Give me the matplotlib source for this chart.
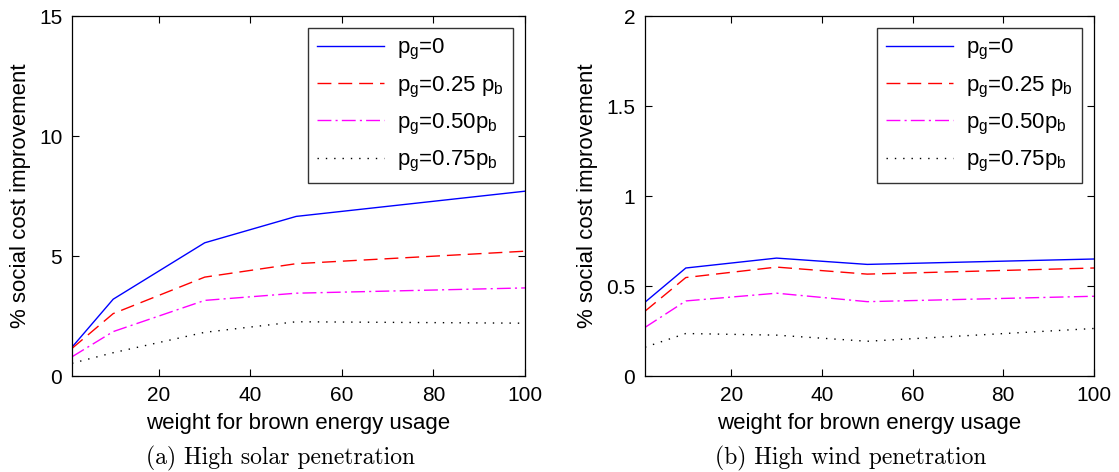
import matplotlib
matplotlib.use("Agg")
import matplotlib.pyplot as plt

plt.rcParams['font.family'] = ['Liberation Sans', 'DejaVu Sans']

weights = [1, 10, 30, 50, 100]

# High solar penetration (% social cost improvement)
solar_pg0 = [1.2, 3.2, 5.55, 6.65, 7.7]
solar_pg025 = [1.15, 2.6, 4.12, 4.68, 5.2]
solar_pg050 = [0.8, 1.85, 3.15, 3.45, 3.67]
solar_pg075 = [0.53, 0.97, 1.82, 2.26, 2.2]

# High wind penetration (% social cost improvement)
wind_pg0 = [0.41, 0.60, 0.655, 0.62, 0.65]
wind_pg025 = [0.36, 0.547, 0.605, 0.566, 0.60]
wind_pg050 = [0.27, 0.417, 0.46, 0.413, 0.443]
wind_pg075 = [0.16, 0.236, 0.227, 0.193, 0.264]

labels = [r'p$_{\mathregular{g}}$=0',
          r'p$_{\mathregular{g}}$=0.25 p$_{\mathregular{b}}$',
          r'p$_{\mathregular{g}}$=0.50p$_{\mathregular{b}}$',
          r'p$_{\mathregular{g}}$=0.75p$_{\mathregular{b}}$']

styles = [dict(color='#0000ff', linestyle='-'),
          dict(color='#ff0000', linestyle=(0, (10, 5))),
          dict(color='#ff00ff', linestyle=(0, (10, 3, 1.5, 3))),
          dict(color='#000000', linestyle=(0, (1, 5)))]

fig = plt.figure(figsize=(11.19, 4.72), dpi=100)
W, H = 1119, 472
ax1 = fig.add_axes([72 / W, 96 / H, (525 - 72) / W, 360 / H])
ax2 = fig.add_axes([645 / W, 96 / H, (1094 - 645) / W, 360 / H])


def draw(ax, series, ylim, yticks, yticklabels, caption, cap_x):
    for vals, lab, st in zip(series, labels, styles):
        ax.plot(weights, vals, label=lab, linewidth=1.0, **st)
    ax.set_xlim(1, 100)
    ax.set_ylim(*ylim)
    ax.set_xticks([20, 40, 60, 80, 100])
    ax.set_yticks(yticks)
    ax.set_yticklabels(yticklabels)
    ax.tick_params(direction='in', length=5, width=0.8, top=True, right=True,
                   labelsize=15, colors='black', pad=7)
    for sp in ax.spines.values():
        sp.set_linewidth(0.9)
    ax.set_xlabel('weight for brown energy usage', fontsize=16, labelpad=6)
    ax.set_ylabel('% social cost improvement', fontsize=16, labelpad=6)
    leg = ax.legend(loc='upper right', fontsize=16, handlelength=3.0,
                    frameon=True, fancybox=False, borderaxespad=0.55,
                    labelspacing=0.55, handletextpad=0.6, borderpad=0.4)
    leg.get_frame().set_edgecolor('black')
    leg.get_frame().set_linewidth(1.0)
    fig.text(cap_x / W, 1 - 458 / H, caption, ha='center', va='center',
             fontsize=17, family='cmr10')


draw(ax1, [solar_pg0, solar_pg025, solar_pg050, solar_pg075], (0, 15),
     [0, 5, 10, 15], ['0', '5', '10', '15'], '(a) High solar penetration', 280)
draw(ax2, [wind_pg0, wind_pg025, wind_pg050, wind_pg075], (0, 2),
     [0, 0.5, 1, 1.5, 2], ['0', '0.5', '1', '1.5', '2'], '(b) High wind penetration', 851)

fig.savefig('out.png', dpi=100)
